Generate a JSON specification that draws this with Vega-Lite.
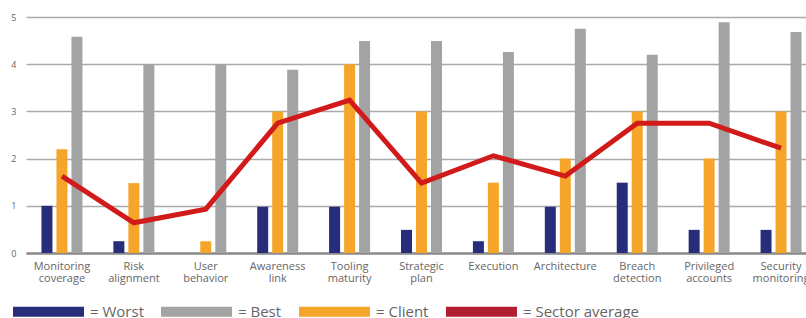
{
  "$schema": "https://vega.github.io/schema/vega-lite/v6.json",
  "width": 780,
  "height": 236,
  "autosize": {"type": "none"},
  "padding": {"left": 26, "top": 17, "right": 0, "bottom": 65},
  "background": "white",
  "config": {
    "font": "Open Sans",
    "view": {"stroke": null},
    "legend": {
      "orient": "none",
      "legendX": -13,
      "legendY": 259,
      "direction": "horizontal",
      "symbolType": "M-1,-0.14L1,-0.14L1,0.14L-1,0.14Z",
      "symbolSize": 5041,
      "symbolStrokeWidth": 0,
      "symbolOpacity": 1,
      "labelFontSize": 15,
      "labelColor": "#666666",
      "labelOffset": 6,
      "columnPadding": 17
    }
  },
  "datasets": {
    "bars": [
      {"category": "Monitoring coverage", "series": "Worst", "value": 1},
      {"category": "Monitoring coverage", "series": "Client", "value": 2.2},
      {"category": "Monitoring coverage", "series": "Best", "value": 4.58},
      {"category": "Risk alignment", "series": "Worst", "value": 0.25},
      {"category": "Risk alignment", "series": "Client", "value": 1.48},
      {"category": "Risk alignment", "series": "Best", "value": 4},
      {"category": "User behavior", "series": "Worst", "value": 0},
      {"category": "User behavior", "series": "Client", "value": 0.25},
      {"category": "User behavior", "series": "Best", "value": 4},
      {"category": "Awareness link", "series": "Worst", "value": 0.98},
      {"category": "Awareness link", "series": "Client", "value": 3},
      {"category": "Awareness link", "series": "Best", "value": 3.88},
      {"category": "Tooling maturity", "series": "Worst", "value": 0.98},
      {"category": "Tooling maturity", "series": "Client", "value": 4},
      {"category": "Tooling maturity", "series": "Best", "value": 4.49},
      {"category": "Strategic plan", "series": "Worst", "value": 0.49},
      {"category": "Strategic plan", "series": "Client", "value": 3},
      {"category": "Strategic plan", "series": "Best", "value": 4.49},
      {"category": "Execution", "series": "Worst", "value": 0.25},
      {"category": "Execution", "series": "Client", "value": 1.49},
      {"category": "Execution", "series": "Best", "value": 4.26},
      {"category": "Architecture", "series": "Worst", "value": 0.98},
      {"category": "Architecture", "series": "Client", "value": 2},
      {"category": "Architecture", "series": "Best", "value": 4.75},
      {"category": "Breach detection", "series": "Worst", "value": 1.49},
      {"category": "Breach detection", "series": "Client", "value": 3},
      {"category": "Breach detection", "series": "Best", "value": 4.2},
      {"category": "Privileged accounts", "series": "Worst", "value": 0.49},
      {"category": "Privileged accounts", "series": "Client", "value": 2},
      {"category": "Privileged accounts", "series": "Best", "value": 4.89},
      {"category": "Security monitoring", "series": "Worst", "value": 0.49},
      {"category": "Security monitoring", "series": "Client", "value": 3},
      {"category": "Security monitoring", "series": "Best", "value": 4.68}
    ],
    "avg": [
      {"category": "Monitoring coverage", "value": 1.63},
      {"category": "Risk alignment", "value": 0.64},
      {"category": "User behavior", "value": 0.93},
      {"category": "Awareness link", "value": 2.75},
      {"category": "Tooling maturity", "value": 3.24},
      {"category": "Strategic plan", "value": 1.48},
      {"category": "Execution", "value": 2.06},
      {"category": "Architecture", "value": 1.63},
      {"category": "Breach detection", "value": 2.75},
      {"category": "Privileged accounts", "value": 2.75},
      {"category": "Security monitoring", "value": 2.22}
    ]
  },
  "layer": [
    {
      "data": {"name": "bars"},
      "mark": {"type": "bar"},
      "encoding": {
        "x": {
          "field": "category",
          "type": "nominal",
          "sort": ["Monitoring coverage", "Risk alignment", "User behavior", "Awareness link", "Tooling maturity", "Strategic plan", "Execution", "Architecture", "Breach detection", "Privileged accounts", "Security monitoring"],
          "scale": {"range": [0, 791], "paddingInner": 0.43, "paddingOuter": 0.215},
          "axis": {
            "title": null,
            "labelAngle": 0,
            "labelExpr": "split(datum.label, ' ')",
            "labelFontSize": 11,
            "labelColor": "#666666",
            "labelPadding": 7,
            "labelLineHeight": 12,
            "ticks": false,
            "domain": true,
            "domainColor": "#8c8c8c",
            "domainWidth": 2.5,
            "grid": false
          }
        },
        "xOffset": {
          "field": "series",
          "type": "nominal",
          "sort": ["Worst", "Client", "Best"],
          "scale": {"paddingInner": 0.267, "paddingOuter": 0}
        },
        "y": {
          "field": "value",
          "type": "quantitative",
          "scale": {"domain": [0, 5], "nice": false},
          "axis": {
            "title": null,
            "values": [0, 1, 2, 3, 4, 5],
            "labelFontSize": 9,
            "labelColor": "#666666",
            "labelPadding": 10,
            "ticks": false,
            "domain": false,
            "grid": true,
            "gridColor": "#aaaaaa",
            "gridWidth": 1.5
          }
        },
        "color": {
          "field": "series",
          "type": "nominal",
          "scale": {
            "domain": ["Worst", "Best", "Client", "Sector average"],
            "range": ["#272D7B", "#A3A3A3", "#F5A62A", "#B11E2F"]
          },
          "legend": {"title": null, "labelExpr": "'= ' + datum.label"}
        }
      }
    },
    {
      "data": {"name": "avg"},
      "mark": {"type": "line", "color": "#D11A1A", "strokeWidth": 5, "strokeJoin": "miter"},
      "encoding": {
        "x": {
          "field": "category",
          "type": "nominal",
          "sort": ["Monitoring coverage", "Risk alignment", "User behavior", "Awareness link", "Tooling maturity", "Strategic plan", "Execution", "Architecture", "Breach detection", "Privileged accounts", "Security monitoring"]
        },
        "y": {"field": "value", "type": "quantitative"}
      }
    }
  ]
}
